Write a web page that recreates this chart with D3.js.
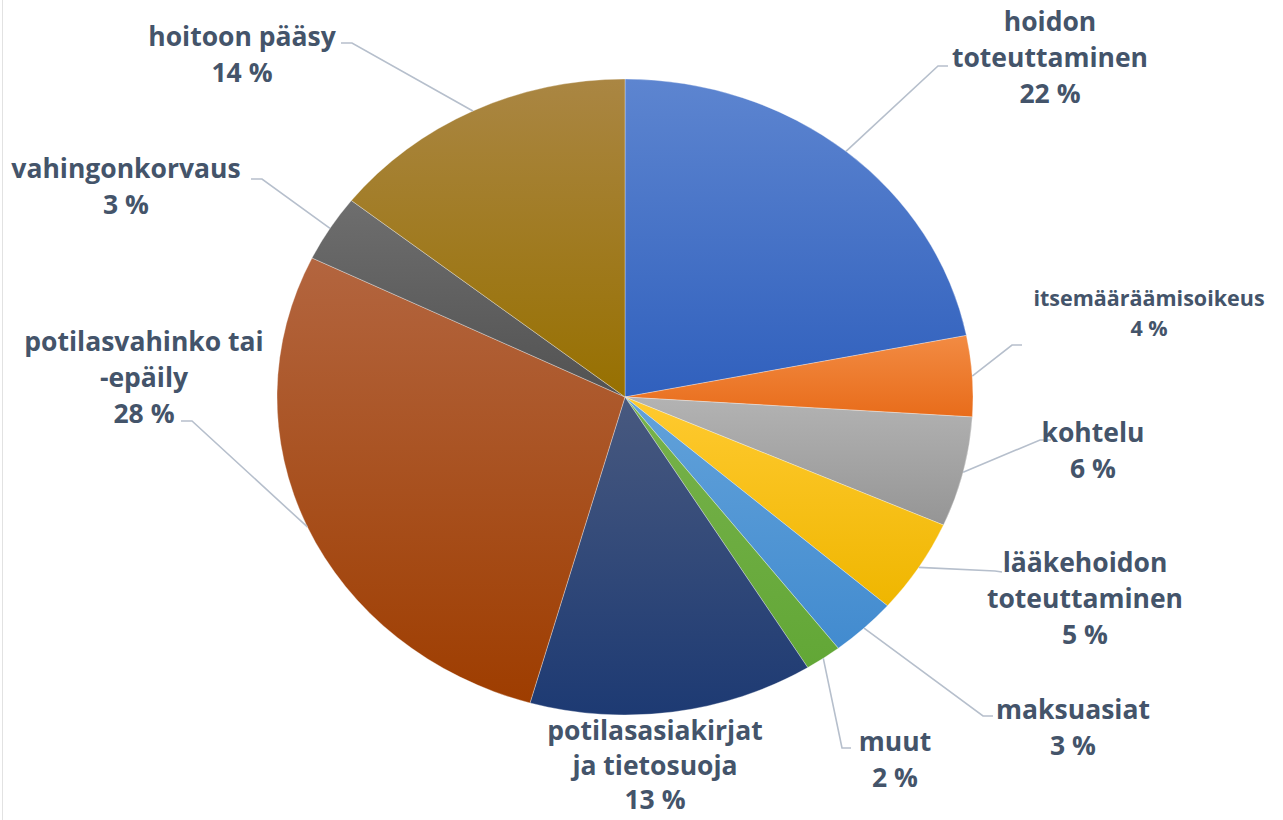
<!DOCTYPE html>
<html>
<head>
<meta charset="utf-8">
<script src="https://cdn.jsdelivr.net/npm/d3@7"></script>
<style>
  body { margin: 0; background: #fff; }
  text { font-family: "Open Sans", sans-serif; font-weight: 700; fill: #44546a; }
</style>
</head>
<body>
<div id="chart"></div>
<script>
// categories, clockwise from 12 o'clock (label lines split with |)
var categories = ["hoidon|toteuttaminen", "itsemääräämisoikeus", "kohtelu",
    "lääkehoidon|toteuttaminen", "maksuasiat", "muut",
    "potilasasiakirjat|ja tietosuoja", "potilasvahinko tai|-epäily",
    "vahingonkorvaus", "hoitoon pääsy"];
// share of complaints, %
var shares = [21.9, 4.1, 5.6, 4.8, 3.1, 1.7, 13.2, 27.8, 3.4, 14.4];

// slice gradient colours (top, bottom)
var topColors = ["#5d85d0", "#f28b43", "#b3b3b3", "#ffca30", "#62a2da", "#78b24c", "#48597f", "#b3653f", "#6e6e6e", "#aa8643"];
var botColors = ["#3060bd", "#e86c1a", "#959595", "#efb600", "#428bcf", "#62a736", "#1d3a73", "#9e3d00", "#525252", "#977000"];

// label layout: text centre x, first line y, line step, leader bend point and end point
var labelLayout = [
    {x: 1050, y: 22, step: 36, bend: [938, 66], end: [948, 66]},
    {x: 1149, y: 298, step: 30, bend: [1012, 345], end: [1022, 345], small: true},
    {x: 1093, y: 433, step: 36, bend: [1040, 440], end: [1051, 440]},
    {x: 1085, y: 563, step: 36, bend: [995, 571], end: [1002, 572]},
    {x: 1073, y: 710, step: 36, bend: [983, 716], end: [993, 716]},
    {x: 895, y: 742, step: 36, bend: [842, 748], end: [851, 748]},
    {x: 655, y: 731, step: 34.5, bend: null, end: null},
    {x: 144, y: 342, step: 36, bend: [192, 421], end: [181, 421]},
    {x: 126, y: 169, step: 36, bend: [262, 179], end: [251, 179]},
    {x: 242, y: 37, step: 36, bend: [352, 43], end: [341, 43]}
];

var width = 1283, height = 820;
var cx = 625, cy = 397, ry = 318, rx = 348;

var svg = d3.select("#chart").append("svg")
    .attr("width", width)
    .attr("height", height);

// thin frame line at the left edge
svg.append("line")
    .attr("x1", 2.5).attr("x2", 2.5)
    .attr("y1", 0).attr("y2", height)
    .attr("stroke", "#e2e2e2");

var defs = svg.append("defs");
categories.forEach(function (c, i) {
    var g = defs.append("linearGradient")
        .attr("id", "grad" + i)
        .attr("x1", 0).attr("y1", 0).attr("x2", 0).attr("y2", 1);
    g.append("stop").attr("offset", "0%").attr("stop-color", topColors[i]);
    g.append("stop").attr("offset", "100%").attr("stop-color", botColors[i]);
});

var data = categories.map(function (c, i) {
    return {name: c, value: shares[i], i: i};
});

var pie = d3.pie().sort(null).value(function (d) { return d.value; });
var arc = d3.arc().innerRadius(0).outerRadius(ry);
var arcs = pie(data);

var pieGroup = svg.append("g")
    .attr("transform", "translate(" + cx + "," + cy + ") scale(" + (rx / ry) + ",1)");

pieGroup.selectAll("path")
    .data(arcs)
    .enter().append("path")
    .attr("d", arc)
    .attr("fill", function (d) { return "url(#grad" + d.data.i + ")"; })
    .attr("stroke", "#ffffff")
    .attr("stroke-opacity", 0.4)
    .attr("stroke-width", 0.8)
    .attr("vector-effect", "non-scaling-stroke");

// leader lines from the slice mid point on the rim
var lineGroup = svg.append("g");
arcs.forEach(function (d, i) {
    var L = labelLayout[i];
    if (!L.bend) return;
    var a = (d.startAngle + d.endAngle) / 2;
    var sx = cx + Math.sin(a) * rx;
    var sy = cy - Math.cos(a) * ry;
    lineGroup.append("path")
        .attr("d", d3.line()([[sx, sy], L.bend, L.end]))
        .attr("fill", "none")
        .attr("stroke", "#b6bfcc")
        .attr("stroke-width", 1.6);
});

// labels
var labelGroup = svg.append("g");
arcs.forEach(function (d, i) {
    var L = labelLayout[i];
    var lines = d.data.name.split("|");
    lines.push(Math.round(d.data.value) + " %");
    var size = L.small ? 21.5 : 26.5;
    var t = labelGroup.append("text")
        .attr("text-anchor", "middle")
        .style("font-size", size + "px");
    lines.forEach(function (s, k) {
        t.append("tspan")
            .attr("x", L.x)
            .attr("y", L.y + k * L.step)
            .attr("dy", "0.35em")
            .text(s);
    });
});
</script>
</body>
</html>
